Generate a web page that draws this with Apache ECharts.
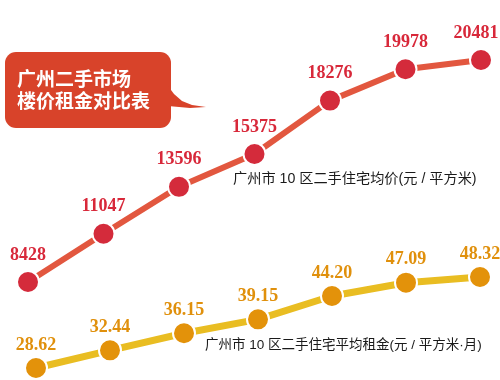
<!DOCTYPE html>
<html>
<head>
<meta charset="utf-8">
<script src="https://cdn.jsdelivr.net/npm/echarts@6/dist/echarts.min.js"></script>
<style>html,body{margin:0;padding:0;background:#fff;}#c{width:500px;height:380px;}</style>
</head>
<body>
<div id="c"></div>
<script>
var categories = ['1', '2', '3', '4', '5', '6', '7'];
var priceValues = [8428, 11047, 13596, 15375, 18276, 19978, 20481];
var rentValues = [28.62, 32.44, 36.15, 39.15, 44.20, 47.09, 48.32];
var titleLines = ['广州二手市场', '楼价租金对比表'];
var priceNote = '广州市 10 区二手住宅均价(元 / 平方米)';
var rentNote = '广州市 10 区二手住宅平均租金(元 / 平方米·月)';

var chart = echarts.init(document.getElementById('c'), null, {renderer: 'canvas'});
var serifNum = '"Liberation Serif","DejaVu Serif",serif';
var cjk = '"Noto Sans CJK SC","Noto Sans",sans-serif';
var mixed = '"Liberation Sans","Noto Sans CJK SC",sans-serif';

var option = {
  backgroundColor: '#ffffff',
  animation: false,
  grid: [
    {left: 28, right: 19, top: 60, bottom: 98},
    {left: 36, right: 20, top: 277, bottom: 12}
  ],
  xAxis: [
    {type: 'category', gridIndex: 0, data: categories, boundaryGap: false, show: false},
    {type: 'category', gridIndex: 1, data: categories, boundaryGap: false, show: false}
  ],
  yAxis: [
    {type: 'value', gridIndex: 0, min: 8428, max: 20481, show: false},
    {type: 'value', gridIndex: 1, min: 28.62, max: 48.32, show: false}
  ],
  series: [
    {
      type: 'line', xAxisIndex: 0, yAxisIndex: 0,
      data: priceValues.map(function (v, i) {
        return i === priceValues.length - 1 ? {value: v, label: {offset: [-5, 0]}} : v;
      }),
      symbol: 'circle', symbolSize: 22,
      lineStyle: {color: '#e2573f', width: 6},
      itemStyle: {color: '#d42b3b', borderColor: '#ffffff', borderWidth: 2},
      label: {show: true, position: 'top', distance: 6, color: '#d8283a',
        fontFamily: serifNum, fontWeight: 'bold', fontSize: 18},
      z: 3
    },
    {
      type: 'line', xAxisIndex: 1, yAxisIndex: 1,
      data: rentValues.map(function (v) { return v; }),
      symbol: 'circle', symbolSize: 22,
      lineStyle: {color: '#e9bd22', width: 7},
      itemStyle: {color: '#e3920a', borderColor: '#ffffff', borderWidth: 2},
      label: {show: true, position: 'top', distance: 2, color: '#e0900c',
        fontFamily: serifNum, fontWeight: 'bold', fontSize: 18,
        formatter: function (p) { return p.value.toFixed(2); }},
      z: 3
    }
  ],
  graphic: [
    {
      type: 'rect', z: 1,
      shape: {x: 5, y: 52, width: 166, height: 76, r: 11},
      style: {fill: '#d8432a'}
    },
    {
      type: 'polygon', z: 1,
      shape: {points: [[168, 86], [174, 94], [182, 101], [192, 105], [206, 107], [190, 108], [168, 106]]},
      style: {fill: '#d8432a'}
    },
    {type: 'text', left: 17, top: 69, z: 2,
      style: {text: titleLines[0], fill: '#ffffff', font: 'bold 19px ' + cjk}},
    {type: 'text', left: 17, top: 91, z: 2,
      style: {text: titleLines[1], fill: '#ffffff', font: 'bold 19px ' + cjk}},
    {type: 'text', left: 233, top: 172, z: 2,
      style: {text: priceNote, fill: '#1a1a1a', font: '14.2px ' + mixed}},
    {type: 'text', left: 205, top: 339, z: 2,
      style: {text: rentNote, fill: '#1a1a1a', font: '13.5px ' + mixed}}
  ]
};
chart.setOption(option);
</script>
</body>
</html>
